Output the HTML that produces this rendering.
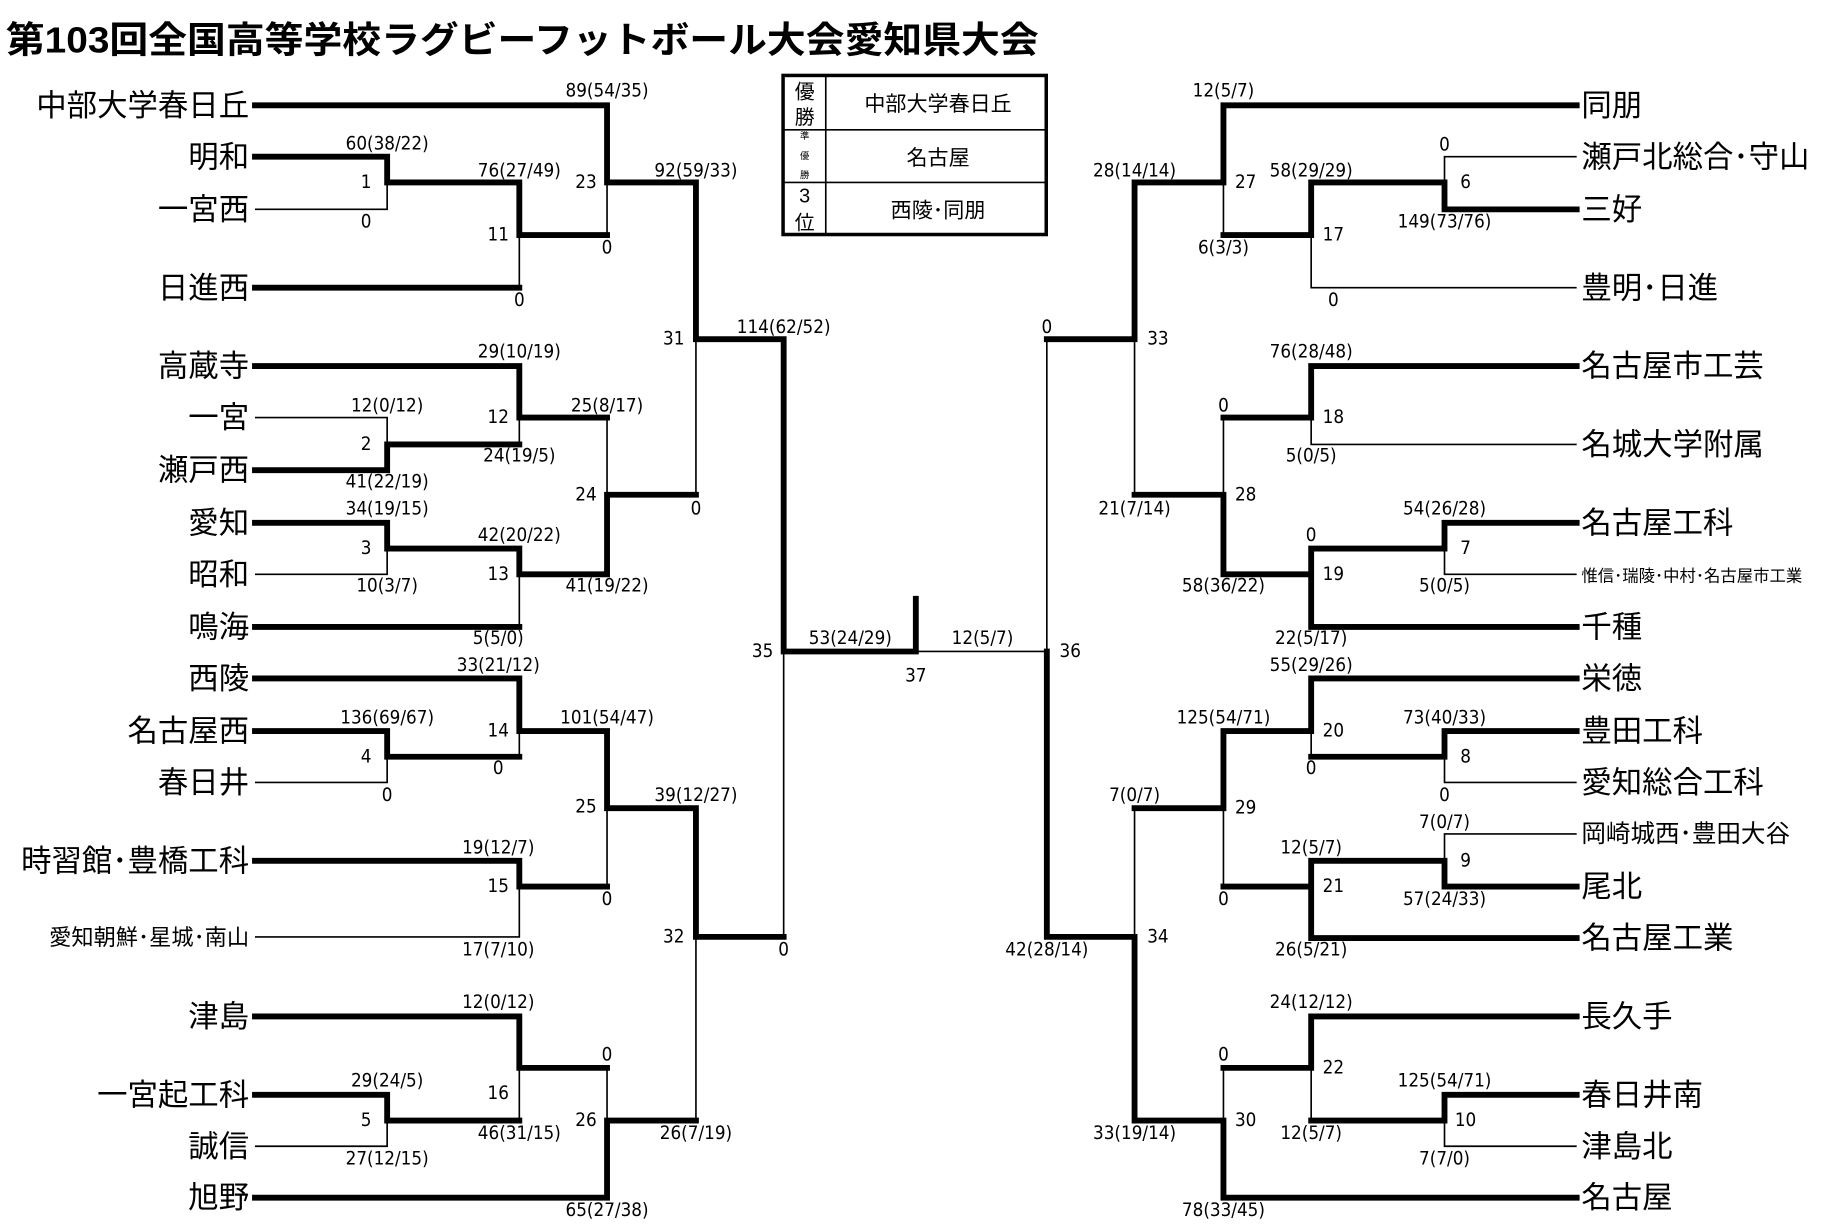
<!DOCTYPE html>
<html><head><meta charset="utf-8"><style>
html,body{margin:0;padding:0;background:#fff;}
svg{display:block;}
.t{font-family:"Liberation Sans","Noto Sans CJK JP",sans-serif;font-size:26px;fill:#000;}
.n{font-family:"Liberation Sans Narrow","DejaVu Sans Condensed","Liberation Sans",sans-serif;font-size:16px;fill:#000;text-anchor:middle;dominant-baseline:central;}
.k{stroke:#000;stroke-width:5;fill:none;stroke-linecap:square;}
.h{stroke:#000;stroke-width:1.4;fill:none;}
</style></head><body>
<svg width="1834" height="1230" viewBox="0 0 1568 1051.6" preserveAspectRatio="none" xmlns="http://www.w3.org/2000/svg">
<text x="5" y="45" style="font-family:'Liberation Sans','Noto Sans CJK JP',sans-serif;font-weight:bold;font-size:31px" textLength="883" lengthAdjust="spacingAndGlyphs">第103回全国高等学校ラグビーフットボール大会愛知県大会</text>

<path class="k" d="
M218 90H519V156 M218 134H331V156H444V201H519 M218 246H444 M519 156H595V290H670
M218 313H444V357H519 M218 402H331V380H444 M218 447H331V469H444V491H519 M218 536H444 M519 491V423H595
M218 580H444V625H519 M218 625H331V647H444 M519 625V691H595 M218 736H444V758H519 M595 691V801H670
M218 869H444V913H519 M218 936H331V958H444 M218 1024H519V958H595
M670 290V557H783V512
M895 557V801H970 M895 290H970
M1348 90H1046V156H970V290 M1235 156H1121V201H1046 M1348 179H1235V156
M1348 313H1121V357H1046 M970 423H1046V491H1121 M1348 447H1235V469H1121V536H1348
M1348 580H1121V625H1046V691H970 M1348 625H1235V647H1121 M1348 758H1235V736H1121V802H1348 M1046 758H1121
M1348 869H1121V913H1046 M1348 936H1235V958H1121 M1348 1024H1046V958H970V801
"/>
<path class="h" d="
M218 179H331V156 M444 201V246 M519 156V201 M595 290V423
M218 357H331V380 M444 357V380 M218 491H331V469 M444 491V536 M519 357V423
M218 669H331V647 M444 625V647 M519 691V758 M218 801H444V758
M218 980H331V958 M444 913V958 M519 913V958 M595 801V958
M670 557V801 M783 557H895 M895 290V557
M1348 134H1235V156 M1046 156V201 M1121 201V246H1348 M970 290V423
M1121 357V380H1348 M1046 357V423 M1235 469V491H1348
M1121 625V647 M1235 647V669H1348 M1046 691V758 M1348 713H1235V736 M970 691V801
M1121 913V958 M1235 958V980H1348 M1046 913V958
"/>

<rect x="669.5" y="64.5" width="225" height="136" fill="none" stroke="#000" stroke-width="3"/>
<path class="h" d="M706 64V201 M669 111H895 M669 156H895" stroke-width="2"/>
<g style="font-family:'Liberation Sans','Noto Sans CJK JP',sans-serif;fill:#000" text-anchor="middle">
<text x="688" y="84" font-size="17">優</text><text x="688" y="106" font-size="17">勝</text>
<text x="688" y="119" font-size="8">準</text><text x="688" y="136" font-size="8">優</text><text x="688" y="152" font-size="8">勝</text>
<text x="688" y="173" font-size="17">3</text><text x="688" y="196" font-size="17">位</text>
<text x="802" y="95" font-size="18">中部大学春日丘</text>
<text x="802" y="141" font-size="18">名古屋</text>
<text x="802" y="186" font-size="18">西陵･同朋</text>
</g>

<g class="t" text-anchor="end">
<text x="213" y="99">中部大学春日丘</text>
<text x="213" y="143">明和</text>
<text x="213" y="188">一宮西</text>
<text x="213" y="255">日進西</text>
<text x="213" y="322">高蔵寺</text>
<text x="213" y="366">一宮</text>
<text x="213" y="411">瀬戸西</text>
<text x="213" y="456">愛知</text>
<text x="213" y="500">昭和</text>
<text x="213" y="545">鳴海</text>
<text x="213" y="589">西陵</text>
<text x="213" y="634">名古屋西</text>
<text x="213" y="678">春日井</text>
<text x="213" y="745">時習館･豊橋工科</text>
<text x="213" y="808" style="font-size:19px">愛知朝鮮･星城･南山</text>
<text x="213" y="878">津島</text>
<text x="213" y="945">一宮起工科</text>
<text x="213" y="989">誠信</text>
<text x="213" y="1033">旭野</text>
</g>
<g class="t">
<text x="1352" y="99">同朋</text>
<text x="1352" y="143">瀬戸北総合･守山</text>
<text x="1352" y="188">三好</text>
<text x="1352" y="255">豊明･日進</text>
<text x="1352" y="322">名古屋市工芸</text>
<text x="1352" y="389">名城大学附属</text>
<text x="1352" y="456">名古屋工科</text>
<text x="1352" y="497" style="font-size:14px">惟信･瑞陵･中村･名古屋市工業</text>
<text x="1352" y="545">千種</text>
<text x="1352" y="589">栄徳</text>
<text x="1352" y="634">豊田工科</text>
<text x="1352" y="678">愛知総合工科</text>
<text x="1352" y="720" style="font-size:21px">岡崎城西･豊田大谷</text>
<text x="1352" y="767">尾北</text>
<text x="1352" y="811">名古屋工業</text>
<text x="1352" y="878">長久手</text>
<text x="1352" y="945">春日井南</text>
<text x="1352" y="989">津島北</text>
<text x="1352" y="1033">名古屋</text>
</g>

<g class="n">
<text x="519" y="78">89(54/35)</text><text x="501" y="156">23</text><text x="519" y="212">0</text>
<text x="595" y="146">92(59/33)</text><text x="576" y="290">31</text><text x="595" y="435">0</text>
<text x="670" y="280">114(62/52)</text><text x="652" y="557">35</text><text x="670" y="812">0</text>
<text x="727" y="546">53(24/29)</text><text x="783" y="578">37</text><text x="840" y="546">12(5/7)</text>
<text x="331" y="123">60(38/22)</text><text x="313" y="156">1</text><text x="313" y="190">0</text>
<text x="444" y="146">76(27/49)</text><text x="426" y="201">11</text><text x="444" y="257">0</text>
<text x="444" y="301">29(10/19)</text><text x="331" y="347">12(0/12)</text><text x="426" y="357">12</text>
<text x="519" y="347">25(8/17)</text><text x="313" y="380">2</text><text x="444" y="390">24(19/5)</text>
<text x="331" y="412">41(22/19)</text><text x="501" y="423">24</text><text x="331" y="435">34(19/15)</text>
<text x="444" y="458">42(20/22)</text><text x="313" y="469">3</text><text x="426" y="491">13</text>
<text x="519" y="501">41(19/22)</text><text x="331" y="501">10(3/7)</text><text x="426" y="546">5(5/0)</text>
<text x="426" y="569">33(21/12)</text><text x="331" y="614">136(69/67)</text><text x="426" y="625">14</text>
<text x="519" y="614">101(54/47)</text><text x="313" y="647">4</text><text x="426" y="657">0</text>
<text x="331" y="680">0</text><text x="501" y="690">25</text><text x="595" y="680">39(12/27)</text>
<text x="426" y="725">19(12/7)</text><text x="426" y="758">15</text><text x="519" y="769">0</text>
<text x="576" y="801">32</text><text x="426" y="812">17(7/10)</text>
<text x="426" y="857">12(0/12)</text><text x="519" y="902">0</text><text x="331" y="924">29(24/5)</text>
<text x="426" y="935">16</text><text x="501" y="958">26</text><text x="313" y="958">5</text>
<text x="595" y="969">26(7/19)</text><text x="444" y="969">46(31/15)</text><text x="331" y="991">27(12/15)</text>
<text x="519" y="1035">65(27/38)</text>
<text x="1235" y="124">0</text><text x="1253" y="156">6</text><text x="1235" y="190">149(73/76)</text>
<text x="1121" y="146">58(29/29)</text><text x="1140" y="201">17</text><text x="1140" y="257">0</text>
<text x="1046" y="78">12(5/7)</text><text x="1065" y="156">27</text><text x="1046" y="212">6(3/3)</text>
<text x="970" y="146">28(14/14)</text><text x="990" y="290">33</text><text x="970" y="435">21(7/14)</text>
<text x="1121" y="301">76(28/48)</text><text x="1140" y="357">18</text><text x="1121" y="390">5(0/5)</text><text x="1046" y="347">0</text>
<text x="1065" y="423">28</text><text x="1046" y="501">58(36/22)</text>
<text x="1235" y="435">54(26/28)</text><text x="1253" y="469">7</text><text x="1235" y="501">5(0/5)</text><text x="1121" y="458">0</text>
<text x="1140" y="491">19</text><text x="1121" y="546">22(5/17)</text>
<text x="895" y="280">0</text><text x="915" y="557">36</text><text x="895" y="812">42(28/14)</text>
<text x="1121" y="569">55(29/26)</text><text x="1140" y="625">20</text><text x="1121" y="657">0</text>
<text x="1235" y="614">73(40/33)</text><text x="1253" y="647">8</text><text x="1235" y="680">0</text>
<text x="1046" y="614">125(54/71)</text><text x="1065" y="691">29</text><text x="1046" y="769">0</text>
<text x="1235" y="703">7(0/7)</text><text x="1253" y="736">9</text><text x="1235" y="769">57(24/33)</text>
<text x="1121" y="725">12(5/7)</text><text x="1140" y="758">21</text><text x="1121" y="812">26(5/21)</text>
<text x="970" y="680">7(0/7)</text><text x="990" y="801">34</text><text x="970" y="969">33(19/14)</text>
<text x="1121" y="857">24(12/12)</text><text x="1140" y="913">22</text><text x="1121" y="969">12(5/7)</text>
<text x="1235" y="924">125(54/71)</text><text x="1253" y="958">10</text><text x="1235" y="991">7(7/0)</text>
<text x="1046" y="902">0</text><text x="1065" y="958">30</text><text x="1046" y="1035">78(33/45)</text>
</g>
</svg>
</body></html>
